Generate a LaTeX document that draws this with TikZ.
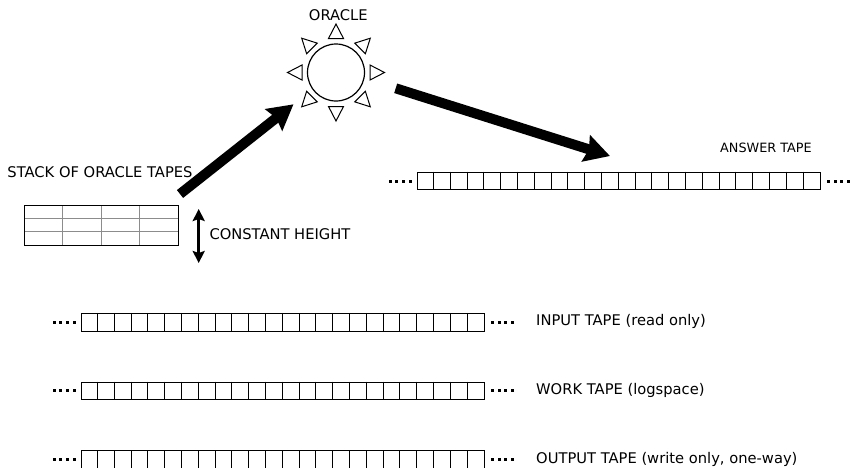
\documentclass[tikz,border=0pt]{standalone}
\usepackage{fontspec}
\setmainfont{DejaVu Sans}
\usetikzlibrary{arrows.meta}
\newcommand\drawtape[3]{%
  \node[tapebox, anchor=north west] (#1) at (#2,#3) {};
  \foreach \i in {1,...,23}
    \draw[cellline] ([xshift=\i*16.8pt]#1.north west) -- ([xshift=\i*16.8pt]#1.south west);
  \foreach \k in {0,...,3} {
    \fill ([xshift=-28pt+\k*6.67pt, yshift=1.5pt]#1.west) rectangle ++(3,3);
    \fill ([xshift=6pt+\k*6.67pt, yshift=1.5pt]#1.east) rectangle ++(3,3);
  }
}
\begin{document}
\begin{tikzpicture}[x=1pt,y=-1pt,
  lbl/.style={font=\fontsize{14.7}{17}\selectfont, inner sep=0pt, anchor=west},
  tapebox/.style={draw=black, line width=1.1pt, minimum width=403.2pt, minimum height=17.6pt, inner sep=0pt},
  cellline/.style={draw=black, line width=1pt},
  gridline/.style={draw=black!45, line width=0.9pt},
  tri/.style={draw=black, line width=1pt, fill=white},
  bigarrow/.style={line width=10pt, -{Stealth[length=25pt,width=27pt,inset=3pt]}},
  dblarrow/.style={line width=3.2pt, {Stealth[length=12pt,width=12pt,inset=2pt]}-{Stealth[length=12pt,width=12pt,inset=2pt]}}]
\useasboundingbox (0,0) rectangle (852,467);

% oracle
\node[circle, draw, line width=1.2pt, minimum size=57pt, inner sep=0pt] (oracle) at (336,72.5) {};
\begin{scope}[shift={(oracle.center)}]
  \foreach \a in {0,45,...,315}
    \draw[tri, rotate=\a] (48.5,0) -- (34,7.5) -- (34,-7.5) -- cycle;
\end{scope}
\node[lbl, anchor=center] (oraclelbl) at (338.3,15) {ORACLE};

% stack of oracle tapes
\node[draw=none, minimum width=154.3pt, minimum height=40pt, inner sep=0pt, anchor=north west] (stack) at (24,205) {};
\foreach \i in {1,2,3}
  \draw[gridline] ([xshift=\i*38.575pt]stack.north west) -- ([xshift=\i*38.575pt]stack.south west);
\foreach \j in {1,2}
  \draw[gridline] ([yshift=-\j*13.333pt]stack.north west) -- ([yshift=-\j*13.333pt]stack.north east);
\draw[line width=0.9pt] (stack.north west) rectangle (stack.south east);
\node[lbl] (stacklbl) at (7.3,171.7) {STACK OF ORACLE TAPES};

% constant height
\coordinate (htop) at (198.7,209);
\coordinate (hbot) at (198.7,263);
\draw[dblarrow] (htop) -- (hbot);
\node[lbl] (heightlbl) at (209.3,234) {CONSTANT HEIGHT};

% big arrows
\coordinate (a1s) at (180,194);
\coordinate (a1e) at (293.5,104.3);
\draw[bigarrow] (a1s) -- (a1e);
\coordinate (a2s) at (395.7,88.3);
\coordinate (a2e) at (610,156);
\draw[bigarrow] (a2s) -- (a2e);

% tapes
\drawtape{answer}{416.7}{171.7}
\node[lbl, font=\fontsize{12.8}{15}\selectfont] (answerlbl) at (720,148) {ANSWER TAPE};

\drawtape{input}{80.7}{312.9}
\node[lbl] (inputlbl) at (536,321.7) {INPUT TAPE (read only)};

\drawtape{work}{80.7}{381.5}
\node[lbl] (worklbl) at (536,390.3) {WORK TAPE (logspace)};

\drawtape{output}{80.7}{450.3}
\node[lbl] (outputlbl) at (536,459) {OUTPUT TAPE (write only, one-way)};
\end{tikzpicture}
\end{document}
